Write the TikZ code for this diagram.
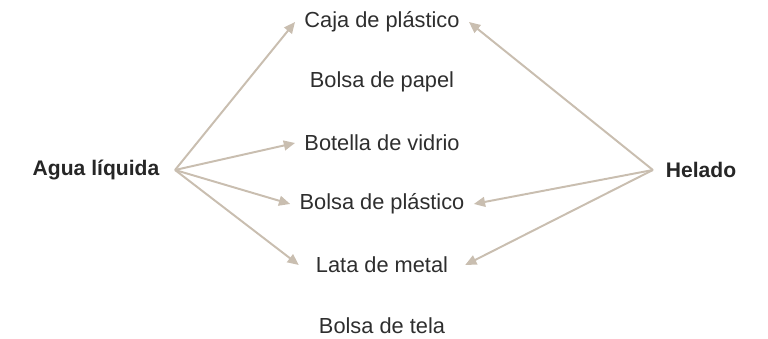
\documentclass[tikz,border=0pt]{standalone}
\usepackage{fontspec}
\setmainfont{Liberation Sans}
\usepackage{xcolor}
\usepackage{tikz}
\usetikzlibrary{arrows.meta}
\usetikzlibrary{positioning}
\definecolor{txt}{HTML}{2E2E2E}
\definecolor{arr}{HTML}{C9BEB0}

\begin{document}
\begin{tikzpicture}[
  x=0.025cm,y=0.025cm,
  every node/.style={font=\fontsize{15.5}{19}\selectfont,text=txt,inner xsep=6.5pt},
  head/.style={font=\bfseries\fontsize{15}{19}\selectfont,text=black!85,inner xsep=11pt},
  link/.style={draw=arr,line width=1.4pt,-{Triangle[length=8pt,width=7pt]}}
]
\useasboundingbox (0,0) rectangle (768,339);
\node[head] (agua) at (96,169) {Agua líquida};
\node[head,inner xsep=9pt] (helado) at (701,169) {Helado};
\node (caja) at (382,317) {Caja de plástico};
\node (papel) at (382,257) {Bolsa de papel};
\node (vidrio) at (382,196) {Botella de vidrio};
\node (plastico) at (382,135) {Bolsa de plástico};
\node[inner xsep=12pt] (lata) at (382,74) {Lata de metal};
\node (tela) at (382,13) {Bolsa de tela};
\draw[link] (agua.east) -- (caja.west);
\draw[link] (agua.east) -- (vidrio.west);
\draw[link] (agua.east) -- (plastico.west);
\draw[link] (agua.east) -- (lata.west);
\draw[link] (helado.west) -- (caja.east);
\draw[link] (helado.west) -- (plastico.east);
\draw[link] (helado.west) -- (lata.east);
\end{tikzpicture}
\end{document}
